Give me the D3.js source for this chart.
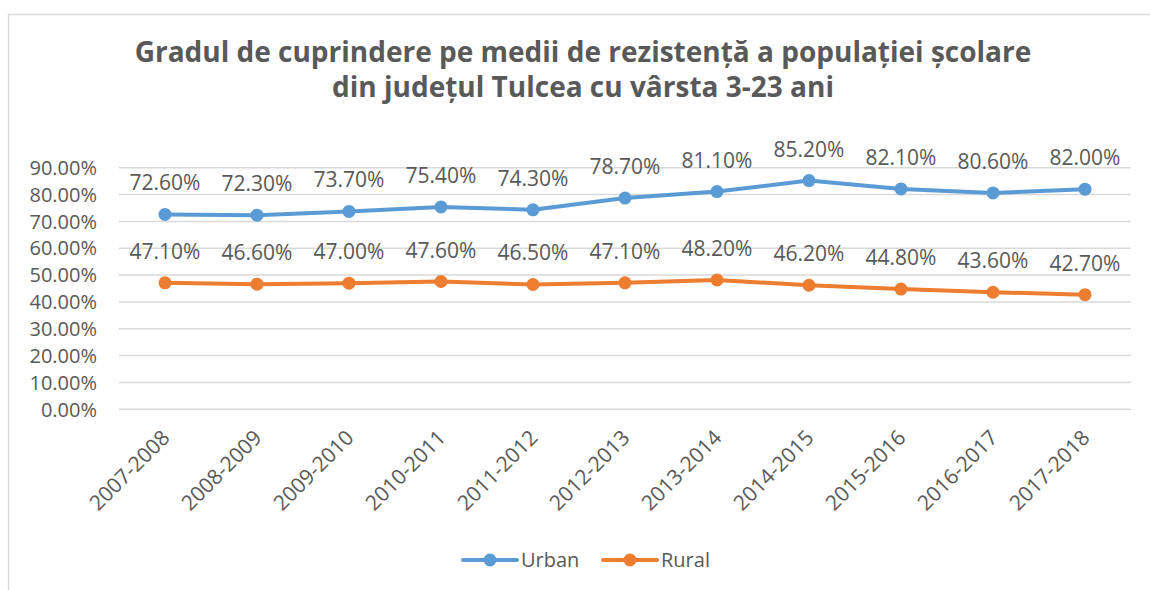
<!DOCTYPE html>
<html lang="ro">
<head>
  <meta charset="UTF-8">
  <title>Gradul de cuprindere</title>
  <script src="https://cdn.jsdelivr.net/npm/d3@7"></script>
  <style>
    body { margin: 0; background: #fff; }
    text { font-family: "Open Sans", sans-serif; fill: #595959; }
  </style>
</head>
<body>
  <div id="chart"></div>

  <script>
    const years = ["2007-2008", "2008-2009", "2009-2010", "2010-2011", "2011-2012", "2012-2013",
      "2013-2014", "2014-2015", "2015-2016", "2016-2017", "2017-2018"];
    const urban = [72.6, 72.3, 73.7, 75.4, 74.3, 78.7, 81.1, 85.2, 82.1, 80.6, 82.0];
    const rural = [47.1, 46.6, 47.0, 47.6, 46.5, 47.1, 48.2, 46.2, 44.8, 43.6, 42.7];
    const yTicks = [0, 10, 20, 30, 40, 50, 60, 70, 80, 90];
    const titleLines = ["Gradul de cuprindere pe medii de rezistență a populației școlare",
      "din județul Tulcea cu vârsta 3-23 ani"];

    const width = 1150,
      height = 590;

    const svg = d3.select('#chart')
      .append('svg')
        .attr('width', width)
        .attr('height', height);

    // chart border
    svg.append('path')
      .attr('d', `M8.5,${height} V14.5 H${width}`)
      .attr('fill', 'none')
      .attr('stroke', '#d9d9d9')
      .attr('stroke-width', 1.5);

    svg.selectAll('.title')
      .data(titleLines)
      .join('text')
        .attr('class', 'title')
        .attr('x', 583)
        .attr('y', (d, i) => 62 + i * 35)
        .attr('text-anchor', 'middle')
        .style('font-size', '28px')
        .style('font-weight', 'bold')
        .text(d => d);

    const x = d3.scaleBand()
      .domain(years)
      .range([119, 1131]);

    const y = d3.scaleLinear()
      .domain([0, 90])
      .range([409.3, 167.7]);

    // gridlines
    svg.append('g')
      .selectAll('line')
      .data(yTicks)
      .join('line')
        .attr('x1', 119)
        .attr('x2', 1131)
        .attr('y1', d => y(d))
        .attr('y2', d => y(d))
        .attr('stroke', '#d9d9d9')
        .attr('stroke-width', 1.5);

    svg.append('g')
      .selectAll('text')
      .data(yTicks)
      .join('text')
        .attr('x', 97)
        .attr('y', d => y(d))
        .attr('dy', '0.36em')
        .attr('text-anchor', 'end')
        .style('font-size', '20px')
        .text(d => d.toFixed(2) + '%');

    svg.append('g')
      .selectAll('text')
      .data(years)
      .join('text')
        .attr('transform', d => `translate(${x(d) + x.bandwidth() / 2 + 6},439) rotate(-45)`)
        .attr('text-anchor', 'end')
        .style('font-size', '21px')
        .text(d => d);

    const series = [
      {name: 'Urban', values: urban, color: '#5b9bd5'},
      {name: 'Rural', values: rural, color: '#ed7d31'}
    ];

    const line = d3.line()
      .x((d, i) => x(years[i]) + x.bandwidth() / 2)
      .y(d => y(d));

    series.forEach(s => {
      const g = svg.append('g');
      g.append('path')
        .attr('d', line(s.values))
        .attr('fill', 'none')
        .attr('stroke', s.color)
        .attr('stroke-width', 4)
        .attr('stroke-linejoin', 'round')
        .attr('stroke-linecap', 'round');
      g.selectAll('circle')
        .data(s.values)
        .join('circle')
          .attr('cx', (d, i) => x(years[i]) + x.bandwidth() / 2)
          .attr('cy', d => y(d))
          .attr('r', 6.5)
          .attr('fill', s.color);
      g.selectAll('text')
        .data(s.values)
        .join('text')
          .attr('x', (d, i) => x(years[i]) + x.bandwidth() / 2)
          .attr('y', d => y(d) - 24)
          .attr('text-anchor', 'middle')
          .style('font-size', '21px')
          .text(d => d.toFixed(2) + '%');
    });

    // legend
    const legend = svg.append('g')
      .selectAll('g')
      .data(series)
      .join('g')
        .attr('transform', (d, i) => `translate(${463 + i * 140},560)`);
    legend.append('line')
      .attr('x1', 0)
      .attr('x2', 54)
      .attr('stroke', d => d.color)
      .attr('stroke-width', 4)
      .attr('stroke-linecap', 'round');
    legend.append('circle')
      .attr('cx', 27)
      .attr('r', 6.5)
      .attr('fill', d => d.color);
    legend.append('text')
      .attr('x', 58)
      .attr('dy', '0.36em')
      .style('font-size', '20px')
      .text(d => d.name);
  </script>
</body>
</html>
